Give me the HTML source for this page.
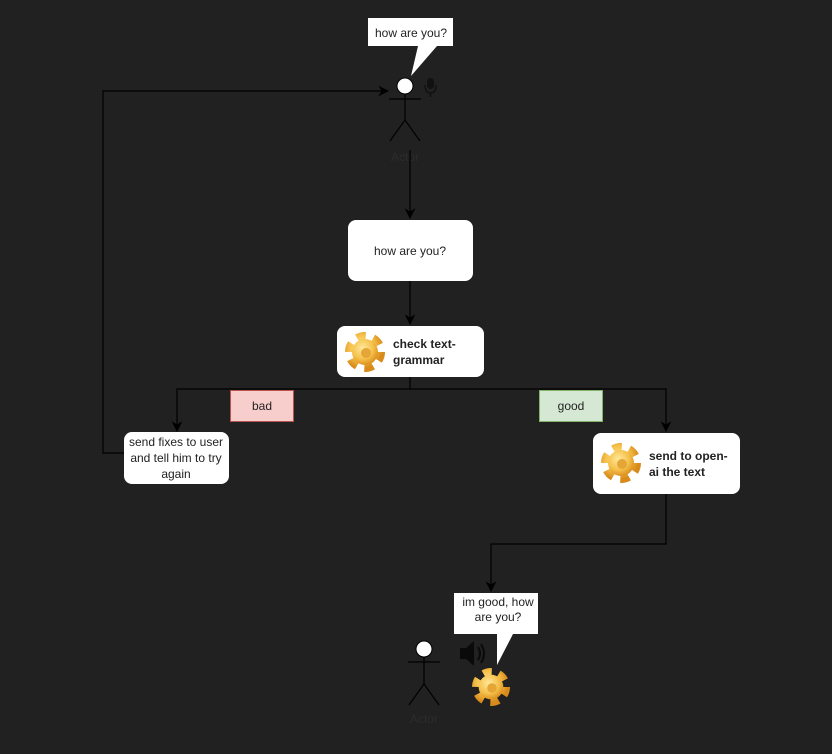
<!DOCTYPE html>
<html><head><meta charset="utf-8"><style>
html,body{margin:0;padding:0;background:#212121;}
svg{display:block;}
text{font-family:"Liberation Sans",sans-serif;}
</style></head><body>
<svg width="832" height="754" viewBox="0 0 832 754" xmlns="http://www.w3.org/2000/svg">
<defs>
<marker id="a" viewBox="0 0 10 10" refX="9" refY="5" markerWidth="9" markerHeight="9" orient="auto"><path d="M0,0 L10,5 L0,10 L3,5 z" fill="#000"/></marker>
<radialGradient id="g" cx="0.4" cy="0.35" r="0.7"><stop offset="0" stop-color="#ffe89a"/><stop offset="0.6" stop-color="#f5c04a"/><stop offset="1" stop-color="#d88a1a"/></radialGradient>
<g id="gear">
<circle cx="0" cy="0" r="15" fill="none" stroke="url(#g)" stroke-width="10" stroke-dasharray="8.5 7.2"/>
<circle cx="0" cy="0" r="13" fill="url(#g)"/>
<circle cx="1" cy="1" r="5" fill="#e5a537"/>
</g>
</defs>
<rect width="832" height="754" fill="#212121"/>
<path d="M368,18 H453 V46 H437 L411,76 L418,46 H368 Z" fill="#fff"/>
<text x="411" y="37" font-size="12" text-anchor="middle" fill="#222">how are you?</text>
<circle cx="405" cy="86" r="8" fill="#fff" stroke="#000" stroke-width="1"/>
<g stroke="#000" stroke-width="1.2" fill="none">
<line x1="405" y1="94" x2="405" y2="120"/>
<line x1="389" y1="99" x2="421" y2="99"/>
<line x1="405" y1="120" x2="390" y2="141"/>
<line x1="405" y1="120" x2="420" y2="141"/>
</g>
<text x="405" y="161" font-size="12" text-anchor="middle" fill="#2c2c2c">Actor</text>
<rect x="427" y="78" width="7" height="11" rx="3.5" fill="#111"/>
<path d="M425,85 Q425,93 430.5,93 Q436,93 436,85" fill="none" stroke="#111" stroke-width="1.5"/>
<line x1="430.5" y1="93" x2="430.5" y2="97" stroke="#111" stroke-width="1.5"/>
<g stroke="#000" stroke-width="1.2" fill="none">
<line x1="410" y1="150" x2="410" y2="218" marker-end="url(#a)"/>
<line x1="410" y1="281" x2="410" y2="324" marker-end="url(#a)"/>
<polyline points="410,377 410,389 177,389 177,431" marker-end="url(#a)"/>
<polyline points="410,389 666,389 666,431" marker-end="url(#a)"/>
<polyline points="124,453 103,453 103,91 388,91" marker-end="url(#a)"/>
<polyline points="666,494 666,544 491,544 491,591" marker-end="url(#a)"/>
</g>
<rect x="348" y="220" width="125" height="61" rx="8" fill="#fff"/>
<text x="410" y="255" font-size="12" text-anchor="middle" fill="#222">how are you?</text>
<rect x="337" y="326" width="147" height="51" rx="8" fill="#fff"/>
<use href="#gear" x="365" y="352"/>
<text x="393" y="348" font-size="12" font-weight="bold" fill="#222">check text-</text>
<text x="393" y="364" font-size="12" font-weight="bold" fill="#222">grammar</text>
<rect x="230.5" y="390.5" width="63" height="31" fill="#f8cecc" stroke="#b85450"/>
<text x="262" y="410" font-size="12" text-anchor="middle" fill="#222">bad</text>
<rect x="539.5" y="390.5" width="63" height="31" fill="#d5e8d4" stroke="#82b366"/>
<text x="571" y="410" font-size="12" text-anchor="middle" fill="#222">good</text>
<rect x="124" y="432" width="105" height="52" rx="8" fill="#fff"/>
<text x="176" y="446" font-size="12" text-anchor="middle" fill="#222">send fixes to user</text>
<text x="176" y="462" font-size="12" text-anchor="middle" fill="#222">and tell him to try</text>
<text x="176" y="478" font-size="12" text-anchor="middle" fill="#222">again</text>
<rect x="593" y="433" width="147" height="61" rx="8" fill="#fff"/>
<use href="#gear" x="621" y="463"/>
<text x="649" y="460" font-size="12" font-weight="bold" fill="#222">send to open-</text>
<text x="649" y="476" font-size="12" font-weight="bold" fill="#222">ai the text</text>
<path d="M454,593 H538 V634 H513 L497,665 L497,634 H454 Z" fill="#fff"/>
<text x="498" y="606" font-size="12" text-anchor="middle" fill="#222">im good, how</text>
<text x="498" y="621" font-size="12" text-anchor="middle" fill="#222">are you?</text>
<circle cx="424" cy="649" r="8" fill="#fff" stroke="#000" stroke-width="1"/>
<g stroke="#000" stroke-width="1.2" fill="none">
<line x1="424" y1="657" x2="424" y2="684"/>
<line x1="408" y1="662" x2="440" y2="662"/>
<line x1="424" y1="684" x2="409" y2="705"/>
<line x1="424" y1="684" x2="439" y2="705"/>
</g>
<text x="424" y="723" font-size="12" text-anchor="middle" fill="#2c2c2c">Actor</text>
<path d="M460,648 H466 L474,641 V666 L466,659 H460 Z" fill="#0a0a0a"/>
<path d="M478,647 Q482,653.5 478,660 M481,644 Q487,653.5 481,663" fill="none" stroke="#0a0a0a" stroke-width="2"/>
<use href="#gear" transform="translate(491,687) scale(0.95)"/>
</svg>
</body></html>
